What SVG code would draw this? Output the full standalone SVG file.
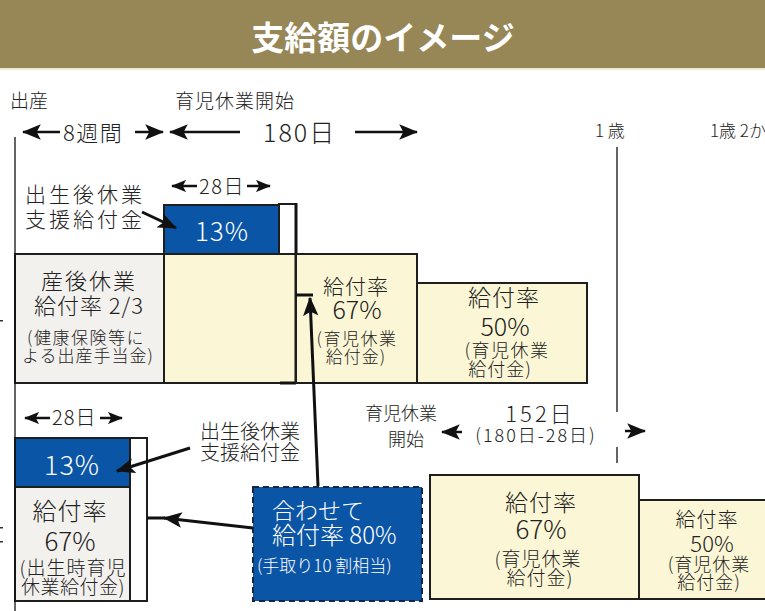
<svg xmlns="http://www.w3.org/2000/svg" width="765" height="611" viewBox="0 0 765 611">
<defs>
<style>
text{font-family:"Noto Sans CJK JP","Noto Sans",sans-serif;fill:#222;font-weight:300;}
.c{text-anchor:middle;}
.w{fill:#fff;}
.box{stroke:#1e1e1e;stroke-width:2;}
.beige{fill:#fbf7d6;}
.gray{fill:#f3f1ee;}
.blue{fill:#0b55a7;}
.ln{stroke:#111;stroke-width:2.5;fill:none;}
.thk{stroke:#111;stroke-width:3;fill:none;}
.thin{stroke:#111;stroke-width:1.3;fill:none;}
</style>
<marker id="ah" viewBox="0 0 16 13" refX="15" refY="6.5" markerWidth="19" markerHeight="15.5" markerUnits="userSpaceOnUse" orient="auto-start-reverse">
<path d="M0,0 L16,6.5 L0,13 L3.5,6.5 z" fill="#111"/>
</marker>
<marker id="ahs" viewBox="0 0 16 13" refX="15" refY="6.5" markerWidth="15" markerHeight="12.2" markerUnits="userSpaceOnUse" orient="auto-start-reverse">
<path d="M0,0 L16,6.5 L0,13 L3.5,6.5 z" fill="#111"/>
</marker>
</defs>
<rect width="765" height="611" fill="#fff"/>

<g id="header">
<rect x="0" y="0" width="765" height="68" fill="#978756"/>
<rect x="0" y="68" width="765" height="2" fill="#efebd6"/>
<text x="383" y="50" class="c w" font-size="33" style="font-weight:bold">支給額のイメージ</text>
</g>

<g id="timeline-labels">
<text x="10" y="108" font-size="19">出産</text>
<text x="175" y="108" font-size="19" letter-spacing="1">育児休業開始</text>
<text x="63" y="141" font-size="22" letter-spacing="1.5">8週間</text>
<text x="263" y="142" font-size="25" letter-spacing="2">180日</text>
<text x="595" y="137" font-size="17">1 歳</text>
<text x="710" y="137" font-size="17">1歳 2か月</text>
<text x="199" y="194" font-size="20" letter-spacing="1.5">28日</text>
<text x="52" y="425" font-size="20" letter-spacing="1">28日</text>
<rect x="0" y="320" width="3" height="1.5" fill="#333"/>
<rect x="0" y="527" width="3" height="1.5" fill="#333"/>
<rect x="0" y="541" width="3" height="1.5" fill="#333"/>
</g>

<g id="upper-left-box">
<rect class="box gray" x="15" y="254" width="149" height="129"/>
<text class="c" x="89" y="289" font-size="22" letter-spacing="2">産後休業</text>
<text class="c" x="89" y="314" font-size="22" letter-spacing="1">給付率 2/3</text>
<text class="c" x="86" y="344" font-size="17" letter-spacing="1.5">(健康保険等に</text>
<text class="c" x="88" y="362" font-size="17" letter-spacing="1">よる出産手当金)</text>
</g>

<g id="upper-middle-box">
<rect class="box beige" x="164" y="254" width="132" height="129"/>
</g>

<g id="upper-13">
<rect class="box blue" x="164" y="205" width="115" height="49"/>
<rect class="box" fill="#fff" x="279" y="204" width="17" height="50"/>
<text class="c w" x="222" y="241" font-size="26" letter-spacing="1">13%</text>
<line class="thk" x1="296" y1="203" x2="296" y2="384"/>
<line class="thk" x1="280" y1="383" x2="296" y2="383"/>
</g>

<g id="upper-label">
<text x="25" y="202" font-size="21" letter-spacing="3">出生後休業</text>
<text x="25" y="227" font-size="21" letter-spacing="3">支援給付金</text>
</g>

<g id="upper-67">
<rect class="box beige" x="296" y="254" width="121" height="129"/>
<text class="c" x="356" y="294" font-size="21" letter-spacing="1">給付率</text>
<text class="c" x="357" y="319" font-size="25">67%</text>
<text class="c" x="357" y="345" font-size="17" letter-spacing="1.5">(育児休業</text>
<text class="c" x="356" y="363" font-size="17" letter-spacing="1">給付金)</text>
</g>

<g id="upper-50">
<rect class="box beige" x="417" y="283" width="170" height="100"/>
<text class="c" x="504" y="306" font-size="23" letter-spacing="1">給付率</text>
<text class="c" x="505" y="336" font-size="25">50%</text>
<text class="c" x="507" y="357" font-size="18" letter-spacing="1.5">(育児休業</text>
<text class="c" x="500" y="376" font-size="18" letter-spacing="1">給付金)</text>
</g>

<g id="lower-13">
<rect class="box blue" x="15" y="438" width="115" height="49"/>
<text class="c w" x="72" y="475" font-size="27" letter-spacing="1">13%</text>
</g>

<g id="lower-67-birth">
<rect class="box gray" x="15" y="487" width="115" height="114"/>
<text class="c" x="70" y="520" font-size="24" letter-spacing="1">給付率</text>
<text class="c" x="70" y="551" font-size="26">67%</text>
<text class="c" x="73" y="575" font-size="19" letter-spacing="1">(出生時育児</text>
<text class="c" x="73" y="594" font-size="19" letter-spacing="0.5">休業給付金)</text>
</g>

<g id="lower-white-column">
<rect class="box" fill="#fff" x="130" y="438" width="17" height="163"/>
</g>

<g id="lower-label">
<text x="200" y="439" font-size="20">出生後休業</text>
<text x="200" y="460" font-size="20">支援給付金</text>
</g>

<g id="combined">
<rect x="253" y="487" width="169" height="114" fill="#0b55a7" stroke="#1a2640" stroke-width="2" stroke-dasharray="6,4"/>
<text class="w" x="272" y="519" font-size="23">合わせて</text>
<text class="w" x="272" y="544" font-size="24">給付率 80%</text>
<text class="w" x="257" y="572" font-size="17">(手取り10 割相当)</text>
</g>

<g id="lower-period-label">
<text class="c" x="401" y="420" font-size="18">育児休業</text>
<text class="c" x="406" y="446" font-size="18">開始</text>
<text class="c" x="540" y="422" font-size="22" letter-spacing="3">152日</text>
<text class="c" x="536" y="442" font-size="18" letter-spacing="2">(180日-28日)</text>
</g>

<g id="lower-67">
<rect class="box beige" x="430" y="475" width="209" height="124"/>
<text class="c" x="541" y="511" font-size="23" letter-spacing="1">給付率</text>
<text class="c" x="541" y="539" font-size="26">67%</text>
<text class="c" x="538" y="566" font-size="19" letter-spacing="1">(育児休業</text>
<text class="c" x="540" y="585" font-size="19" letter-spacing="1">給付金)</text>
</g>

<g id="lower-50">
<rect class="box beige" x="639" y="500" width="140" height="99"/>
<text class="c" x="707" y="527" font-size="20" letter-spacing="1">給付率</text>
<text class="c" x="712" y="552" font-size="22">50%</text>
<text class="c" x="709" y="571" font-size="18" letter-spacing="1">(育児休業</text>
<text class="c" x="709" y="589" font-size="18" letter-spacing="1">給付金)</text>
</g>

<g id="connectors">
<line class="thin" x1="15" y1="137" x2="15" y2="611"/>
<line class="thin" x1="617" y1="147" x2="617" y2="412"/>
<line class="thin" x1="617" y1="447" x2="617" y2="463"/>
<line class="ln" x1="60" y1="132" x2="23" y2="132" marker-end="url(#ah)"/>
<line class="ln" x1="135" y1="132" x2="163" y2="132" marker-end="url(#ah)"/>
<line class="ln" x1="240" y1="132" x2="170" y2="132" marker-end="url(#ah)"/>
<line class="ln" x1="355" y1="132" x2="417" y2="132" marker-end="url(#ah)"/>
<line class="ln" x1="197" y1="186" x2="172" y2="186" marker-end="url(#ahs)"/>
<line class="ln" x1="247" y1="186" x2="270" y2="186" marker-end="url(#ahs)"/>
<line class="ln" x1="50" y1="418" x2="25" y2="418" marker-end="url(#ahs)"/>
<line class="ln" x1="100" y1="418" x2="122" y2="418" marker-end="url(#ahs)"/>
<line class="ln" x1="462" y1="432" x2="442" y2="432" marker-end="url(#ah)"/>
<line class="ln" x1="625" y1="431" x2="645" y2="431" marker-end="url(#ah)"/>
<line class="thk" x1="142" y1="212" x2="176" y2="228" marker-end="url(#ah)"/>
<line class="thk" x1="190" y1="448" x2="117" y2="471" marker-end="url(#ah)"/>
<line class="thk" x1="253" y1="528" x2="164" y2="518" marker-end="url(#ah)"/>
<line class="thk" x1="147" y1="518" x2="165" y2="518"/>
<line class="thk" x1="318" y1="486" x2="310" y2="298" marker-end="url(#ah)"/>
<line class="thk" x1="296" y1="295" x2="313" y2="295"/>
</g>
</svg>
